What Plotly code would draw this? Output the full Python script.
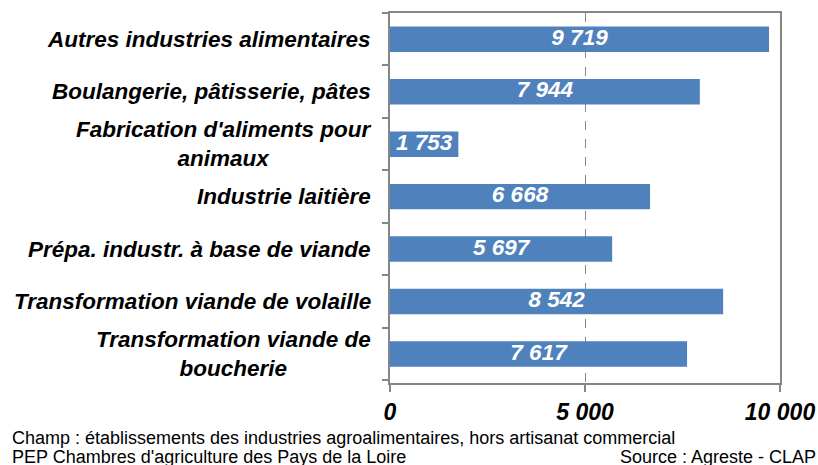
import plotly.graph_objects as go

categories = [
    "Autres industries alimentaires",
    "Boulangerie, pâtisserie, pâtes",
    "Fabrication d'aliments pour<br>animaux",
    "Industrie laitière",
    "Prépa. industr. à base de viande",
    "Transformation viande de volaille",
    "Transformation viande de<br>boucherie",
]
values = [9719, 7944, 1753, 6668, 5697, 8542, 7617]
x_ticks = [0, 5000, 10000]
x_tick_labels = ["0", "5 000", "10 000"]

note_left_1 = "Champ : établissements des industries agroalimentaires, hors artisanat commercial"
note_left_2 = "PEP Chambres d'agriculture des Pays de la Loire"
note_right = "Source : Agreste - CLAP"

BAR = "#4F81BD"
GRAY = "#868686"
FONT = "Liberation Sans"

L, R, T, B = 390, 38, 13, 82
PW = 818 - L - R

labels = [f"{v:,}".replace(",", " ") for v in values]

fig = go.Figure()
fig.add_trace(go.Bar(
    x=values, y=categories, orientation="h",
    marker=dict(color=BAR, line=dict(width=0)),
    hoverinfo="x+y",
))
fig.add_trace(go.Scatter(
    x=[v / 2 for v in values], y=categories, mode="text",
    text=[f"<b><i>{t}</i></b>" for t in labels],
    textposition="middle center",
    textfont=dict(family=FONT, size=22.5, color="white"),
    hoverinfo="skip",
))

fig.update_layout(
    width=818, height=465,
    margin=dict(l=L, r=R, t=T, b=B, autoexpand=False),
    paper_bgcolor="white", plot_bgcolor="white",
    showlegend=False,
    bargap=0.515,
    font=dict(family=FONT, color="black"),
    xaxis=dict(
        range=[0, 10000], automargin=False,
        tickvals=x_ticks, ticktext=[f"<b><i>{t}</i></b>" for t in x_tick_labels],
        tickfont=dict(family=FONT, size=23, color="black"),
        showline=True, linecolor=GRAY, linewidth=2, mirror=True,
        ticks="outside", ticklen=7, tickwidth=2, tickcolor=GRAY,
        showgrid=True, gridcolor=GRAY, gridwidth=1.3, griddash="dash",
        zeroline=False, fixedrange=True,
    ),
    yaxis=dict(
        autorange="reversed", automargin=False,
        tickvals=categories, showticklabels=False,
        showline=True, linecolor=GRAY, linewidth=2, mirror=True,
        ticks="outside", ticklen=6, tickwidth=2, tickcolor=GRAY,
        tickson="boundaries",
        showgrid=False, zeroline=False, fixedrange=True,
    ),
)

for c in categories:
    fig.add_annotation(
        xref="paper", yref="y", x=(373 - L) / PW, y=c,
        xanchor="right", yanchor="middle", align="center", showarrow=False,
        text=f"<b><i>{c}</i></b>",
        font=dict(family=FONT, size=22.5, color="black"),
    )

fig.add_annotation(xref="paper", yref="paper", x=(10 - L) / PW, y=0,
                   xanchor="left", yanchor="middle", showarrow=False,
                   text=note_left_1, font=dict(family=FONT, size=18, color="black"),
                   yshift=-55)
fig.add_annotation(xref="paper", yref="paper", x=(10 - L) / PW, y=0,
                   xanchor="left", yanchor="middle", showarrow=False,
                   text=note_left_2, font=dict(family=FONT, size=18, color="black"),
                   yshift=-74)
fig.add_annotation(xref="paper", yref="paper", x=(818 - L) / PW, y=0,
                   xanchor="right", yanchor="middle", showarrow=False,
                   text=note_right, font=dict(family=FONT, size=18, color="black"),
                   yshift=-74)

fig.write_html(
    "out.html",
    config={"displayModeBar": False},
    post_script="document.body.style.margin='0';document.body.style.overflow='hidden';",
)
